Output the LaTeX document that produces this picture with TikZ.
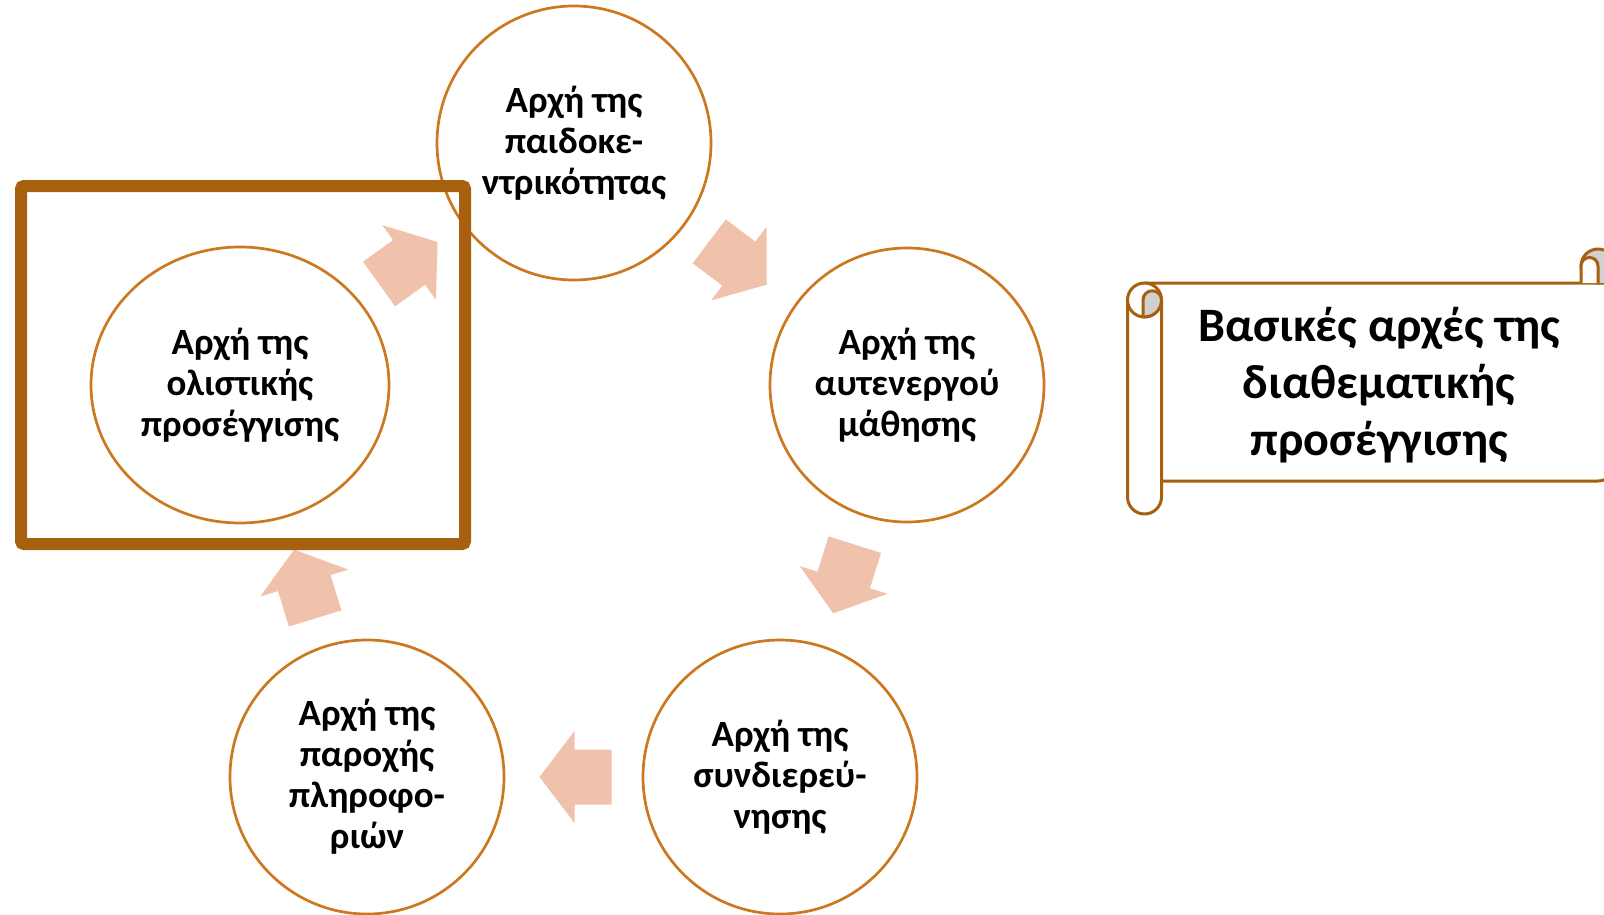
\documentclass[tikz,border=0pt]{standalone}
\usepackage{fontspec}
\setmainfont{Carlito}
\usetikzlibrary{shapes.geometric}
\definecolor{circline}{RGB}{204,120,32}
\definecolor{framecol}{RGB}{166,96,14}
\definecolor{arrowfill}{RGB}{240,193,171}
\definecolor{scrollgray}{RGB}{208,208,208}
\newcommand\blockarrow[3]{%
  \fill[arrowfill, shift={(#1,#2)}, rotate=#3]
    (-36,-27.5) -- (1,-27.5) -- (1,-46) -- (36,0) -- (1,46) -- (1,27.5) -- (-36,27.5) -- cycle;}
\tikzset{
  principle/.style={circle, draw=circline, line width=2.7pt, fill=white,
    minimum size=274pt, inner sep=0pt, align=center,
    font=\bfseries\fontsize{37}{41}\selectfont},
  scrollline/.style={draw=framecol, line width=3pt, line join=round},
}
\begin{document}
\begin{tikzpicture}[x=1pt,y=-1pt]
\useasboundingbox (0,0) rectangle (1604,915);
\clip (0,0) rectangle (1604,915);
% circles
\node[principle] (top) at (574,143) {Αρχή της\\παιδοκε-\\ντρικότητας};
\node[principle] (right) at (907,385) {Αρχή της\\αυτενεργού\\μάθησης};
\node[principle] (brc) at (780,777) {Αρχή της\\συνδιερεύ-\\νησης};
\node[principle] (blc) at (367,777) {Αρχή της\\παροχής\\πληροφο-\\ριών};
\node[principle, ellipse, minimum width=298pt, minimum height=276pt] (left) at (240,385) {Αρχή της\\ολιστικής\\προσέγγισης};
% block arrows
\blockarrow{408.3}{263}{35.7}
\blockarrow{738}{263}{-37}
\blockarrow{844}{579}{-107.5}
\blockarrow{575.5}{777}{180}
\blockarrow{304.6}{584}{107}
% highlight frame
\draw[framecol, line width=12pt, rounded corners=3pt] (21,186) rectangle (465,544);
% scroll
\path[scrollline, fill=white] (1144.5,283) -- (1615,283) -- (1615,464)
  arc[start angle=0, end angle=90, radius=17] -- (1161.5,481) -- (1144.5,481) -- cycle;
% right roll
\path[scrollline, fill=scrollgray] (1598,266) circle[radius=17];
\path[fill=scrollgray] (1598,266) rectangle (1615,283);
\path[scrollline, fill=white] (1581,283) -- (1581,266)
  arc[start angle=180, end angle=360, radius=8.5] -- (1598,283);
% left roll
\path[scrollline, fill=white] (1127.5,300) -- (1127.5,497)
  arc[start angle=180, end angle=0, radius=17] -- (1161.5,300);
\path[scrollline, fill=white] (1144.5,300) circle[radius=17];
\path[scrollline, fill=scrollgray] (1143,300) arc[start angle=180, end angle=360, radius=9.25]
  arc[start angle=0, end angle=95, radius=17] -- cycle;
\node[align=center, font=\bfseries\fontsize{48}{57.3}\selectfont] (title) at (1379,385)
  {Βασικές αρχές της\\διαθεματικής\\προσέγγισης};
\end{tikzpicture}
\end{document}
